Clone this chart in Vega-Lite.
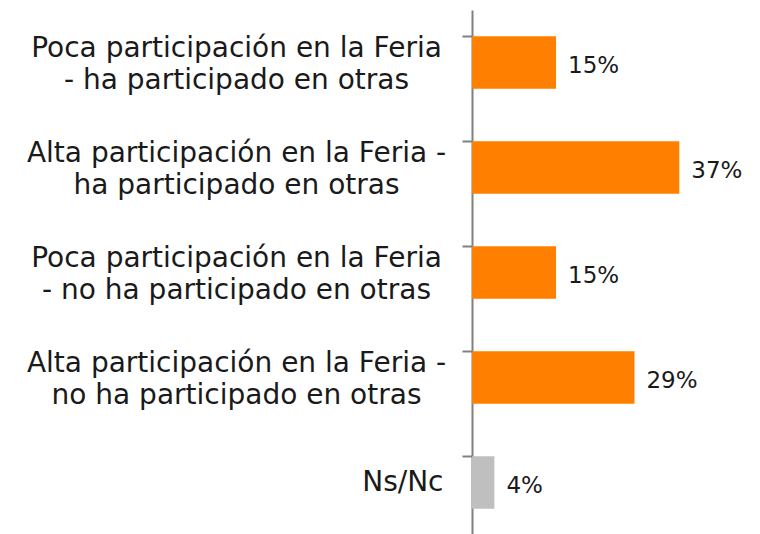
{
  "$schema": "https://vega.github.io/schema/vega-lite/v6.json",
  "width": 288,
  "height": 525,
  "autosize": {"type": "none"},
  "padding": {"left": 472, "top": 10, "right": 0, "bottom": 0},
  "background": "white",
  "config": {"view": {"stroke": null}},
  "data": {"values": [
    {"cat": "Poca participación en la Feria|- ha participado en otras", "pct": 15, "label": "15%", "grp": "a"},
    {"cat": "Alta participación en la Feria -|ha participado en otras", "pct": 37, "label": "37%", "grp": "a"},
    {"cat": "Poca participación en la Feria|- no ha participado en otras", "pct": 15, "label": "15%", "grp": "a"},
    {"cat": "Alta participación en la Feria -|no ha participado en otras", "pct": 29, "label": "29%", "grp": "a"},
    {"cat": "Ns/Nc", "pct": 4, "label": "4%", "grp": "b"}
  ]},
  "encoding": {
    "y": {
      "field": "cat", "type": "nominal", "sort": null,
      "scale": {"paddingInner": 0.5, "paddingOuter": 0.25},
      "axis": {
        "title": null,
        "bandPosition": 0,
        "domainColor": "#808080", "domainWidth": 2,
        "tickColor": "#808080", "tickWidth": 2, "tickSize": 10,
        "labelExpr": "split(datum.label, '|')",
        "labelFont": "DejaVu Sans", "labelFontSize": 28, "labelColor": "#1a1a1a",
        "labelLineHeight": 32, "labelLimit": 0,
        "labelAlign": {"expr": "datum.value == 'Ns/Nc' ? 'right' : 'center'"},
        "labelPadding": {"expr": "datum.value == 'Ns/Nc' ? 19 : 226"},
        "labelOffset": {"expr": "datum.value == 'Ns/Nc' ? 0 : -14"},
        "labelBaseline": "middle"
      }
    },
    "x": {"field": "pct", "type": "quantitative", "scale": {"domain": [0, 51.4]}, "axis": null}
  },
  "layer": [
    {
      "mark": {"type": "bar"},
      "encoding": {
        "color": {"field": "grp", "type": "nominal", "scale": {"domain": ["a", "b"], "range": ["#FF7F00", "#BFBFBF"]}, "legend": null}
      }
    },
    {
      "mark": {"type": "text", "align": "left", "baseline": "middle", "dx": 12, "dy": 3, "font": "DejaVu Sans", "fontSize": 23, "color": "#1a1a1a"},
      "encoding": {"text": {"field": "label"}}
    }
  ]
}
